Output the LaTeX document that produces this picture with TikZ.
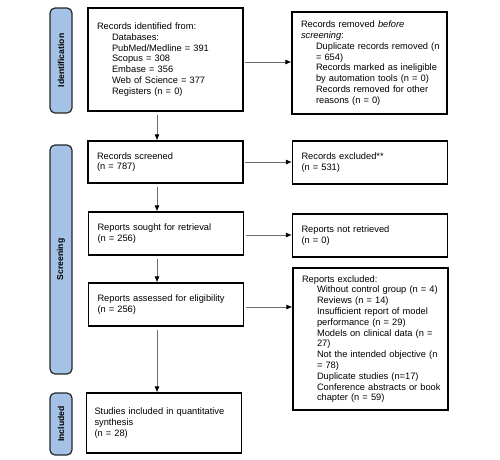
\documentclass[tikz,border=0pt]{standalone}
\usepackage{fontspec}
\setmainfont{Liberation Sans}
\usetikzlibrary{arrows.meta}
\definecolor{sidefill}{HTML}{A4C2E6}
\definecolor{conn}{HTML}{6E6E6E}
\newcommand\Ind{\hspace*{15pt}}
\begin{document}
\begin{tikzpicture}[x=1pt,y=1pt,
  box/.style={draw=black, line width=1.2pt, fill=white, text width=137pt, inner xsep=9pt, inner ysep=0pt,
    align=left, font=\fontsize{9.3}{10.8}\selectfont, anchor=center},
  side/.style={draw=black!85, line width=1.2pt, fill=sidefill, rounded corners=5pt, minimum width=22pt,
    inner sep=0pt, font=\fontsize{8.6}{10}\selectfont\bfseries},
  arr/.style={draw=conn, line width=0.8pt, -{Latex[length=6pt,width=5pt,color=black]}}]
\useasboundingbox (0,0) rectangle (500,-459);
% side labels
\node[side, minimum height=105pt] (sid) at (61,-60.5) {};
\node[rotate=90, font=\fontsize{8.6}{10}\selectfont\bfseries] (sidt) at (sid.center) {Identification};
\node[side, minimum height=229pt] (sscr) at (61,-259.5) {};
\node[rotate=90, font=\fontsize{8.6}{10}\selectfont\bfseries] (sscrt) at (sscr.center) {Screening};
\node[side, minimum height=62pt] (sinc) at (61,-424) {};
\node[rotate=90, font=\fontsize{8.6}{10}\selectfont\bfseries] (sinct) at (sinc.center) {Included};
% main boxes
\node[box, minimum height=103pt] (id) at (165.5,-59.5) {%
\mbox{Records identified from:}\\
\mbox{\Ind Databases:}\\
\mbox{\Ind PubMed/Medline = 391}\\
\mbox{\Ind Scopus = 308}\\
\mbox{\Ind Embase = 356}\\
\mbox{\Ind Web of Science = 377}\\
\mbox{\Ind Registers (n = 0)}};
\node[box, minimum height=102pt] (rem) at (369.5,-63) {%
\mbox{Records removed \textit{before}}\\
\mbox{\textit{screening}:}\\
\mbox{\Ind Duplicate records removed (n}\\
\mbox{\Ind = 654)}\\
\mbox{\Ind Records marked as ineligible}\\
\mbox{\Ind by automation tools (n = 0)}\\
\mbox{\Ind Records removed for other}\\
\mbox{\Ind reasons (n = 0)}};
\node[box, minimum height=42pt] (scr) at (165.5,-162) {Records screened\\(n = 787)};
\node[box, minimum height=43pt] (exc) at (370,-162.5) {Records excluded**\\(n = 531)};
\node[box, minimum height=43pt] (sou) at (166,-233.5) {Reports sought for retrieval\\(n = 256)};
\node[box, minimum height=43pt] (nret) at (370,-235.5) {Reports not retrieved\\(n = 0)};
\node[box, minimum height=43pt] (ass) at (166,-304.5) {Reports assessed for eligibility\\(n = 256)};
\node[box, minimum height=142pt] (rexc) at (370.5,-339) {%
\mbox{Reports excluded:}\\
\mbox{\Ind Without control group (n = 4)}\\
\mbox{\Ind Reviews (n = 14)}\\
\mbox{\Ind Insufficient report of model}\\
\mbox{\Ind performance (n = 29)}\\
\mbox{\Ind Models on clinical data (n =}\\
\mbox{\Ind 27)}\\
\mbox{\Ind Not the intended objective (n}\\
\mbox{\Ind = 78)}\\
\mbox{\Ind Duplicate studies (n=17)}\\
\mbox{\Ind Conference abstracts or book}\\
\mbox{\Ind chapter (n = 59)}};
\node[box, minimum height=60pt, inner xsep=8pt, text width=139pt] (inc) at (164,-423) {%
\mbox{Studies included in quantitative}\\synthesis\\(n = 28)};
% connectors
\coordinate (ax) at (157,0);
\draw[arr, shorten <=3pt] (id.south -| ax) -- (scr.north -| ax);
\draw[arr, shorten <=3pt] (scr.south -| ax) -- (sou.north -| ax);
\draw[arr, shorten <=3pt] (sou.south -| ax) -- (ass.north -| ax);
\draw[arr, shorten <=3pt] (ass.south -| ax) -- (inc.north -| ax);
\draw[arr, shorten <=1.5pt] ([yshift=-2.5pt]id.east) -- ([yshift=-2.5pt]id.east -| rem.west);
\draw[arr, shorten <=1.5pt] (scr.east) -- (scr.east -| exc.west);
\draw[arr, shorten <=1.5pt] ([yshift=-1.5pt]sou.east) -- ([yshift=-1.5pt]sou.east -| nret.west);
\draw[arr, shorten <=1.5pt] ([yshift=-2.5pt]ass.east) -- ([yshift=-2.5pt]ass.east -| rexc.west);
\end{tikzpicture}
\end{document}
